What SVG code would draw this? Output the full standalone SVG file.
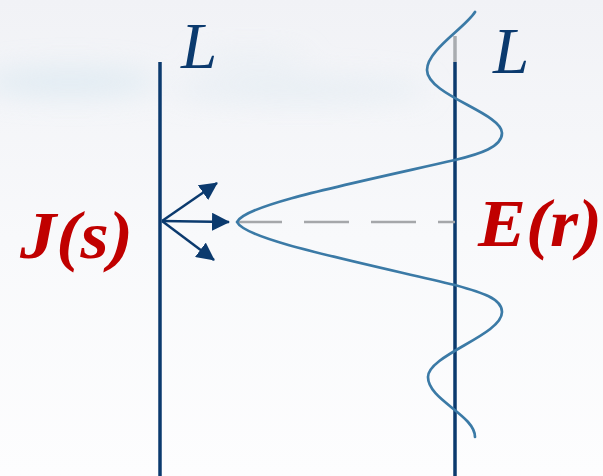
<svg xmlns="http://www.w3.org/2000/svg" width="603" height="476" viewBox="0 0 603 476">
  <style>
    .wire { stroke: #0b3a6e; stroke-width: 3.5; fill: none; }
    .lbl { font-family: "Liberation Serif", "Times New Roman", serif; font-style: italic; fill: #0b3a6e; font-size: 65px; }
    .math { font-family: "Liberation Serif", "Times New Roman", serif; font-style: italic; font-weight: bold; fill: #c00000; }
    .arrow { stroke: #0b3a6e; stroke-width: 2.5; fill: none; }
    .wave { stroke: #3b7aa6; stroke-width: 2.7; fill: none; stroke-linecap: round; }
  </style>
  <defs>
    <linearGradient id="bg" x1="0" y1="0" x2="0" y2="1">
      <stop offset="0" stop-color="#f1f2f6"/>
      <stop offset="0.5" stop-color="#f8f9fb"/>
      <stop offset="1" stop-color="#fdfdfe"/>
    </linearGradient>
    <filter id="blur" x="-50%" y="-50%" width="200%" height="200%">
      <feGaussianBlur stdDeviation="14"/>
    </filter>
    <marker id="ah" markerUnits="userSpaceOnUse" markerWidth="19" markerHeight="18" refX="17" refY="9" orient="auto">
      <path d="M0,0 L18,9 L0,18 Z" fill="#0b3a6e"/>
    </marker>
  </defs>
  <rect width="603" height="476" fill="url(#bg)"/>
  <g filter="url(#blur)" opacity="0.55">
    <ellipse cx="70" cy="82" rx="90" ry="14" fill="#cfe3ee"/>
    <ellipse cx="300" cy="90" rx="130" ry="12" fill="#dbe8f0"/>
    <ellipse cx="250" cy="60" rx="60" ry="8" fill="#e2ecf2"/>
  </g>

  <g id="left-line">
    <line class="wire" x1="160" y1="62" x2="160" y2="476"/>
    <text class="lbl" x="181" y="68">L</text>
  </g>

  <g id="right-line">
    <line x1="455" y1="36" x2="455" y2="62" stroke="#a9acb0" stroke-width="3.5"/>
    <line class="wire" x1="455" y1="62" x2="455" y2="476"/>
    <text class="lbl" x="493" y="73">L</text>
  </g>

  <g id="wave">
    <line x1="237" y1="222" x2="455" y2="222" stroke="#a5a7aa" stroke-width="2.5" stroke-dasharray="45 22"/>
    <path class="wave" d="M475,12 C465,28 427,50 427,70 C427,95 502,113 502,133 C502,147 480,154 455,160 C340,186 245,205 237,222 C245,239 340,258 455,285 C480,292 502,298 502,312 C502,335 428,355 428,377 C428,400 475,415 475,437"/>
  </g>

  <g id="source-J">
    <text class="math" x="20" y="258" font-size="68" textLength="113" lengthAdjust="spacingAndGlyphs">J(s)</text>
  </g>

  <g id="field-E">
    <text class="math" x="478" y="246" font-size="67" textLength="124" lengthAdjust="spacingAndGlyphs">E(r)</text>
  </g>

  <g id="connectors">
    <line class="arrow" x1="162" y1="221" x2="217" y2="183" marker-end="url(#ah)"/>
    <line class="arrow" x1="162" y1="221" x2="229" y2="222" marker-end="url(#ah)"/>
    <line class="arrow" x1="162" y1="221" x2="214" y2="260" marker-end="url(#ah)"/>
  </g>
</svg>
